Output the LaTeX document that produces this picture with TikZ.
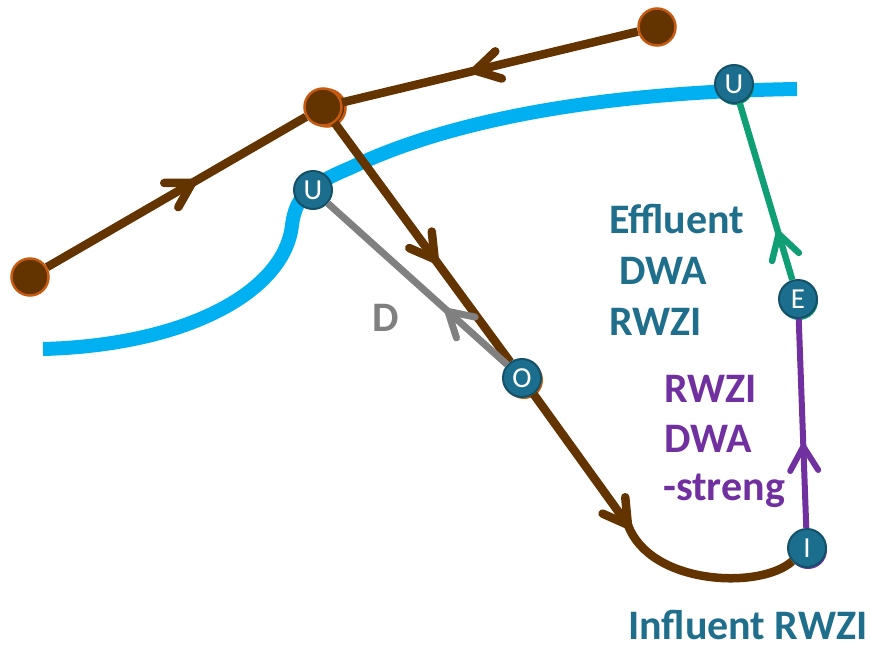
\documentclass[tikz,border=0pt]{standalone}
\usepackage{fontspec}
\setmainfont{Carlito}
\usetikzlibrary{decorations.markings}
\definecolor{mybrown}{RGB}{99,51,0}
\definecolor{myorange}{RGB}{197,90,17}
\definecolor{myblue}{RGB}{0,176,240}
\definecolor{nodeteal}{RGB}{27,110,141}
\definecolor{nodedark}{RGB}{20,80,104}
\definecolor{textteal}{RGB}{30,110,140}
\definecolor{mygreen}{RGB}{16,158,116}
\definecolor{mypurple}{RGB}{112,48,160}
\definecolor{mygray}{RGB}{128,128,128}
\newcommand\chevron[2]{\draw[#1, line width=#2, line cap=round, line join=round] (-24,-14) -- (0,0) -- (-24,14);}
\begin{document}
\begin{tikzpicture}[x=1pt,y=-1pt,
  letter/.style={circle, fill=nodeteal, draw=nodedark, line width=2pt, minimum size=38pt, inner sep=0pt, text=white, font={\fontsize{29}{29}\selectfont}},
  shade/.style={circle, minimum size=38pt, inner sep=0pt, fill=#1},
  dot/.style={circle, fill=mybrown, draw=myorange, line width=2.5pt, minimum size=37pt, inner sep=0pt},
  brownln/.style={draw=mybrown, line width=8.5pt},
  label/.style={anchor=base west, inner sep=0pt, text depth=0pt, font={\fontsize{42}{42}\bfseries\selectfont}}]
\useasboundingbox (0,0) rectangle (870,646);
% river
\draw[myblue, line width=14pt] (43,349) .. controls (190,345) and (285,290) .. (292,225)
  .. controls (296,195) and (310,185) .. (350,168) .. controls (450,120) and (600,92) .. (797,89);
% nodes
\node[dot] (TR) at (657,27) {};
\node[dot] (L) at (30,277) {};
\node[dot] (B2) at (327,108) {};
\node[dot] (B) at (323,107) {};
\node[letter] (U1) at (313,190) {U};
\node[shade=mygreen] at (735,86) {};
\node[letter] (U2) at (734,84) {U};
\node[shade=myorange] at (524,380) {};
\node[letter] (O) at (522,378) {O};
\node[shade=mygreen] at (799,301) {};
\node[letter] (E) at (798,299) {E};
\node[shade=mypurple] at (808,550) {};
\node[letter] (I) at (807,548) {I};
\coordinate (c1) at (628,525);
% brown connectors
\draw[brownln, postaction=decorate, decoration={markings, mark=at position 0.55 with {\chevron{mybrown}{8.5pt}}}] (TR) -- (B);
\draw[brownln, postaction=decorate, decoration={markings, mark=at position 0.56 with {\chevron{mybrown}{8.5pt}}}] (L) -- (B);
\draw[brownln, postaction=decorate, decoration={markings, mark=at position 0.57 with {\chevron{mybrown}{8.5pt}}}] (B) -- (O);
\draw[brownln] (O) -- (c1) .. controls (650,585) and (760,590) .. (I);
\path[decorate, decoration={markings, mark=at position 0.999 with {\chevron{mybrown}{8.5pt}}}] (O) -- (c1);
% gray
\draw[mygray, line width=7pt, postaction=decorate, decoration={markings, mark=at position 0.33 with {\chevron{mygray}{7pt}}}] (O) -- (U1);
% green
\draw[mygreen, line width=6.5pt, postaction=decorate, decoration={markings, mark=at position 0.26 with {\chevron{mygreen}{6.5pt}}}] (E) -- (U2);
% purple
\draw[mypurple, line width=6pt, postaction=decorate, decoration={markings, mark=at position 0.39 with {\chevron{mypurple}{6pt}}}] (I) -- (E);
% labels
\node[label, text=mygray] (tD) at (372,331) {D};
\node[label, text=textteal] (t1) at (609,233) {Effluent};
\node[label, text=textteal] (t2) at (619,284) {DWA};
\node[label, text=textteal] (t3) at (609,335) {RWZI};
\node[label, text=mypurple] (t4) at (664,402) {RWZI};
\node[label, text=mypurple] (t5) at (664,452) {DWA};
\node[label, text=mypurple] (t6) at (663,500) {-streng};
\node[label, text=textteal] (t7) at (628,639) {Influent RWZI};
\end{tikzpicture}
\end{document}
